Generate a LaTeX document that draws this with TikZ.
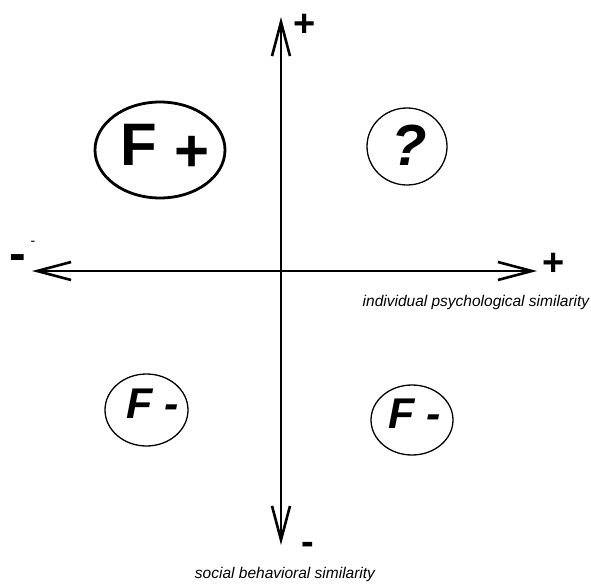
\documentclass[tikz,border=0pt]{standalone}
\usepackage{fontspec}
\setmainfont{Liberation Sans}
\usetikzlibrary{arrows.meta,shapes.geometric,positioning}
% text placed off the centre of its ellipse
\newcommand{\offsettext}[3]{\raisebox{#2}{\makebox[0pt]{\hspace{#1}#3}}}

\begin{document}
\begin{tikzpicture}[x=1pt,y=-1pt,
  axis/.style={line width=2pt,{Straight Barb[length=34pt,width=18pt,line width=2.6pt]}-{Straight Barb[length=34pt,width=18pt,line width=2.6pt]}},
  region/.style={draw,ellipse,line width=1.3pt,inner sep=0pt,text height=0pt,text depth=0pt,
    font=\fontsize{43}{43}\selectfont\bfseries\itshape},
  sign/.style={inner sep=0pt,font=\fontsize{38}{38}\selectfont\bfseries},
  axislabel/.style={inner sep=0pt,font=\fontsize{15.5}{16}\selectfont\itshape}]
  \useasboundingbox (0,0) rectangle (591,583);
  % Axis ends
  \coordinate (xl) at (32,271);
  \coordinate (xr) at (537,271);
  \coordinate (yt) at (281,17);
  \coordinate (yb) at (281,545);
  \draw[axis] (xl) -- (xr);
  \draw[axis] (yb) -- (yt);
  % Signs at the axis ends
  \node[sign] (xplus) at (554,264) {+};
  \node[sign] (yplus) at (305,25) {+};
  \node[sign] (yminus) at (308,548) {-};
  \node[sign,font=\fontsize{50}{50}\selectfont\bfseries] (xminus) at (18,263) {-};
  \node[inner sep=0pt,font=\fontsize{14}{14}\selectfont] (xminus2) at (33,243) {-};
  % Axis labels
  \node[axislabel] (xlabel) at (476,302) {individual psychological similarity};
  \node[axislabel] (ylabel) at (285,574) {social behavioral similarity};
  % Quadrants
  \node[region,line width=2.8pt,minimum width=130pt,minimum height=96pt,
    font=\fontsize{60}{60}\selectfont\bfseries] (fplus) at (160,150)
    {\offsettext{9.5pt}{-15pt}{F\hspace{17pt}\raisebox{-6pt}{+}}};
  \node[region,minimum width=80pt,minimum height=77pt,
    font=\fontsize{58}{58}\selectfont\bfseries\itshape] (query) at (407,146.5) {\offsettext{4pt}{-18.5pt}{?}};
  \foreach \name/\cx/\cy/\w/\h/\dx/\dy in {fminusl/146.5/410/83/72/12/-8, fminusr/412/420/82/70/6/-8}{
    \node[region,minimum width=\w pt,minimum height=\h pt] (\name) at (\cx,\cy) {\offsettext{\dx pt}{\dy pt}{F -}};
  }
\end{tikzpicture}
\end{document}
